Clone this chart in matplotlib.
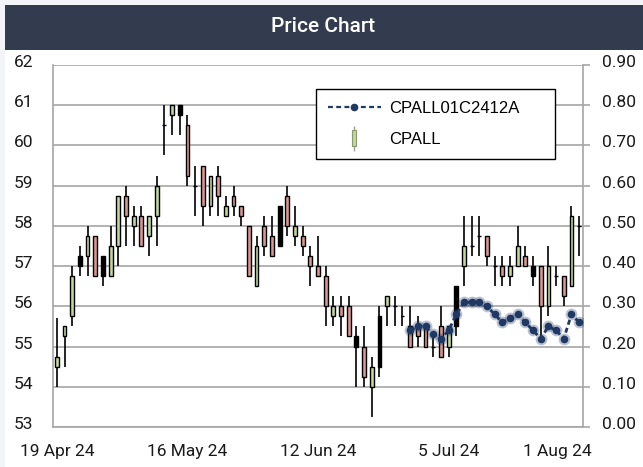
import matplotlib as mpl
mpl.use('Agg')

import matplotlib.pyplot as plt
from matplotlib import rcParams
from matplotlib.lines import Line2D
from matplotlib.legend_handler import HandlerTuple
from matplotlib.patches import Rectangle
from matplotlib.transforms import ScaledTranslation
import numpy as np

rcParams['font.family'] = ['Roboto', 'DejaVu Sans']

########################################
# data (trading days, 19 Apr 24 .. 1 Aug 24)

dates = ['19 Apr 24', '22 Apr 24', '23 Apr 24', '24 Apr 24', '25 Apr 24', '26 Apr 24', '29 Apr 24', '30 Apr 24',
         '2 May 24', '3 May 24', '7 May 24', '8 May 24', '9 May 24', '10 May 24', '13 May 24', '14 May 24',
         '15 May 24', '16 May 24', '17 May 24', '20 May 24', '21 May 24', '23 May 24', '24 May 24', '27 May 24',
         '28 May 24', '29 May 24', '30 May 24', '31 May 24', '4 Jun 24', '5 Jun 24', '6 Jun 24', '7 Jun 24',
         '10 Jun 24', '11 Jun 24', '12 Jun 24', '13 Jun 24', '14 Jun 24', '17 Jun 24', '18 Jun 24', '19 Jun 24',
         '20 Jun 24', '21 Jun 24', '24 Jun 24', '25 Jun 24', '26 Jun 24', '27 Jun 24', '28 Jun 24', '1 Jul 24',
         '2 Jul 24', '3 Jul 24', '4 Jul 24', '5 Jul 24', '8 Jul 24', '9 Jul 24', '10 Jul 24', '11 Jul 24',
         '12 Jul 24', '15 Jul 24', '16 Jul 24', '17 Jul 24', '18 Jul 24', '19 Jul 24', '23 Jul 24', '24 Jul 24',
         '25 Jul 24', '26 Jul 24', '30 Jul 24', '31 Jul 24', '1 Aug 24']

opens = [54.5, 55.25, 55.75, 57.25, 57.25, 57.75, 57.25, 56.75, 57.5, 58.75,
         58.0, 58.25, 57.75, 58.25, 60.5, 60.75, 61.0, 60.5, 59.0, 59.5,
         58.5, 59.25, 58.25, 58.75, 58.5, 58.0, 56.5, 58.0, 57.75, 58.5,
         58.75, 57.75, 57.75, 57.25, 57.0, 56.75, 55.75, 56.0, 56.0, 55.25,
         55.0, 54.0, 54.5, 56.0, 56.0, 55.75, 55.5, 55.5, 55.5, 55.0,
         55.5, 55.0, 55.5, 57.0, 57.5, 57.75, 57.75, 57.0, 57.0, 56.75,
         57.0, 57.25, 57.0, 57.0, 56.0, 56.75, 56.75, 56.5, 58.0]
highs = [55.7, 55.5, 57.0, 57.5, 58.0, 57.75, 57.25, 58.0, 58.75, 59.0,
         58.5, 58.5, 58.25, 59.25, 61.0, 61.0, 61.0, 60.75, 59.5, 59.5,
         59.25, 59.5, 58.75, 59.0, 58.5, 58.0, 57.75, 58.25, 58.25, 58.5,
         59.0, 58.5, 58.0, 57.5, 57.75, 57.0, 56.25, 56.25, 56.25, 55.5,
         55.5, 54.75, 56.0, 56.25, 56.25, 56.0, 56.0, 55.75, 55.5, 55.25,
         56.0, 55.5, 56.5, 58.25, 58.25, 58.25, 57.75, 57.25, 57.25, 57.25,
         58.0, 57.5, 57.25, 57.0, 57.5, 57.0, 56.75, 58.5, 58.25]
lows = [54.0, 54.5, 55.5, 56.75, 56.75, 56.75, 56.5, 56.75, 57.0, 57.5,
        57.5, 57.5, 57.25, 57.5, 59.75, 60.25, 60.25, 59.0, 58.25, 58.0,
        58.25, 58.25, 58.25, 58.25, 58.0, 56.75, 56.5, 57.25, 57.25, 57.5,
        57.75, 57.5, 57.25, 56.5, 56.75, 55.5, 55.5, 55.25, 55.25, 54.0,
        54.0, 53.25, 54.25, 55.5, 55.5, 55.5, 55.0, 55.0, 55.0, 54.75,
        54.75, 54.75, 55.25, 56.5, 57.25, 57.25, 57.0, 56.5, 56.5, 56.5,
        57.0, 57.0, 56.5, 55.2, 55.75, 56.5, 56.0, 56.5, 57.25]
closes = [54.75, 55.5, 56.75, 57.0, 57.75, 56.75, 56.75, 57.5, 58.75, 58.25,
          58.25, 57.5, 58.25, 59.0, 60.5, 61.0, 60.75, 59.25, 59.0, 58.5,
          59.25, 58.75, 58.5, 58.5, 58.25, 56.75, 57.5, 57.5, 57.25, 57.5,
          58.0, 58.0, 57.5, 57.0, 56.75, 56.0, 56.0, 55.75, 55.25, 55.0,
          54.25, 54.5, 55.75, 56.25, 56.0, 55.75, 55.0, 55.25, 55.0, 55.0,
          54.75, 55.5, 56.5, 57.5, 57.5, 57.75, 57.25, 57.0, 56.75, 57.0,
          57.5, 57.0, 56.75, 56.0, 57.0, 56.75, 56.25, 58.25, 58.0]
# days whose body is rendered solid black in the source chart
black_days = [3, 6, 16, 29, 39, 42, 52, 62]

# CPALL01C2412A derivative warrant (right axis), starts trading 28 Jun 24
warrant_first = '28 Jun 24'
warrant = [0.24, 0.25, 0.25, 0.23, 0.22, 0.24, 0.28, 0.31, 0.31, 0.31, 0.30, 0.28,
           0.26, 0.27, 0.28, 0.26, 0.24, 0.22, 0.25, 0.24, 0.22, 0.28, 0.26]

label_dates = ['19 Apr 24', '16 May 24', '12 Jun 24', '5 Jul 24', '1 Aug 24']

########################################
# colours

up_col = '#c3d69b'
down_col = '#d99694'
grid_col = '#a6a6a6'
navy = '#1f3864'

W, H = 643, 467
fig = plt.figure(figsize=(W / 100., H / 100.), dpi=100)
fig.patch.set_facecolor('#f3f4f8')
fig.patches.append(Rectangle((5. / W, 0), 1, (H - 5.) / H, transform=fig.transFigure,
                             facecolor='white', edgecolor='none', zorder=-10))
fig.patches.append(Rectangle((5. / W, 1 - 50. / H), 1, 45. / H, transform=fig.transFigure,
                             facecolor='#333c4e', edgecolor='none', zorder=-5))
fig.text(323. / W, 1 - 26. / H, 'Price Chart', color='white', fontsize=15,
         fontweight='medium', ha='center', va='center')

ax = fig.add_axes([53. / W, 40. / H, 530. / W, 362. / H])
x = np.arange(len(dates))
o = np.array(opens); c = np.array(closes)
body_col = [up_col if cc >= oo else down_col for oo, cc in zip(o, c)]
for i in black_days:
    body_col[i] = 'black'

ax.vlines(x, lows, highs, color='black', lw=1.2, zorder=2)
ax.bar(x, np.abs(c - o), bottom=np.minimum(o, c), width=0.5, color=body_col,
       edgecolor='black', linewidth=1.0, zorder=3)

ax.set_xlim(-0.5, len(dates) - 0.5)
ax.set_ylim(53, 62)
ax.set_yticks(np.arange(53, 63, 1))
ax.grid(axis='y', color=grid_col, lw=1.2)
ax.set_axisbelow(True)
ax.spines['top'].set_visible(False)
for s in ['left', 'right', 'bottom']:
    ax.spines[s].set_color(grid_col)
    ax.spines[s].set_linewidth(1.2)
ax.tick_params(axis='y', length=0, pad=14, labelsize=12.5, labelcolor='#1a1a1a')
ax.set_xticks([dates.index(d) for d in label_dates])
ax.set_xticklabels(label_dates)
ax.tick_params(axis='x', length=0, pad=12, labelsize=12.5, labelcolor='#1a1a1a')

ax2 = ax.twinx()
ax2.set_ylim(0, 0.9)
ax2.set_yticks(np.arange(0, 0.91, 0.1))
ax2.set_yticklabels(['%.2f' % v for v in np.arange(0, 0.91, 0.1)])
ax2.tick_params(axis='y', length=5, width=1.2, color=grid_col, pad=9, labelsize=12.5,
                labelcolor='#1a1a1a')
for s in ax2.spines.values():
    s.set_visible(False)

wx = np.arange(dates.index(warrant_first), dates.index(warrant_first) + len(warrant))
ax2.plot(wx, warrant, color=navy, lw=2, dashes=(1.8, 1.2), zorder=4)
ax2.plot(wx, warrant, ls='none', marker='o', ms=8.5, color=navy, alpha=0.3, mec='none', zorder=5)
ax2.plot(wx, warrant, ls='none', marker='o', ms=5.5, color=navy, mec='none', zorder=6)

# labels sit a little above the gridlines
up = ScaledTranslation(0, 4. / 100, fig.dpi_scale_trans)
for lab in ax.get_yticklabels() + ax2.get_yticklabels():
    lab.set_transform(lab.get_transform() + up)
last = ax.get_xticklabels()[-1]
last.set_transform(last.get_transform() + ScaledTranslation(-22. / 100, 0, fig.dpi_scale_trans))

h_warrant = Line2D([], [], color=navy, lw=1.6, dashes=(2.2, 1.5), marker='o', ms=4.5, mec=navy)
h_wick = Line2D([], [], ls='none', marker='|', ms=18, mew=1, color='#a0a0a0')
h_body = Line2D([], [], ls='none', marker=[(-0.3, -1), (0.3, -1), (0.3, 1), (-0.3, 1), (-0.3, -1)],
                ms=11, mfc=up_col, mec='#8a9a6a', mew=0.8)
leg = ax2.legend([h_warrant, (h_wick, h_body)], ['CPALL01C2412A', 'CPALL'],
                 handler_map={tuple: HandlerTuple(ndivide=1)},
                 loc='upper left', bbox_to_anchor=(0.496, 0.732, 0.451, 0.202), mode='expand',
                 prop={'family': 'Liberation Sans', 'size': 12}, frameon=True, fancybox=False,
                 edgecolor='black', framealpha=1, borderpad=0.7, labelspacing=1.0,
                 handlelength=3.2, handletextpad=0.5, borderaxespad=0)
leg.get_frame().set_linewidth(1.0)

plt.savefig('out.png', dpi=100, facecolor=fig.get_facecolor())
